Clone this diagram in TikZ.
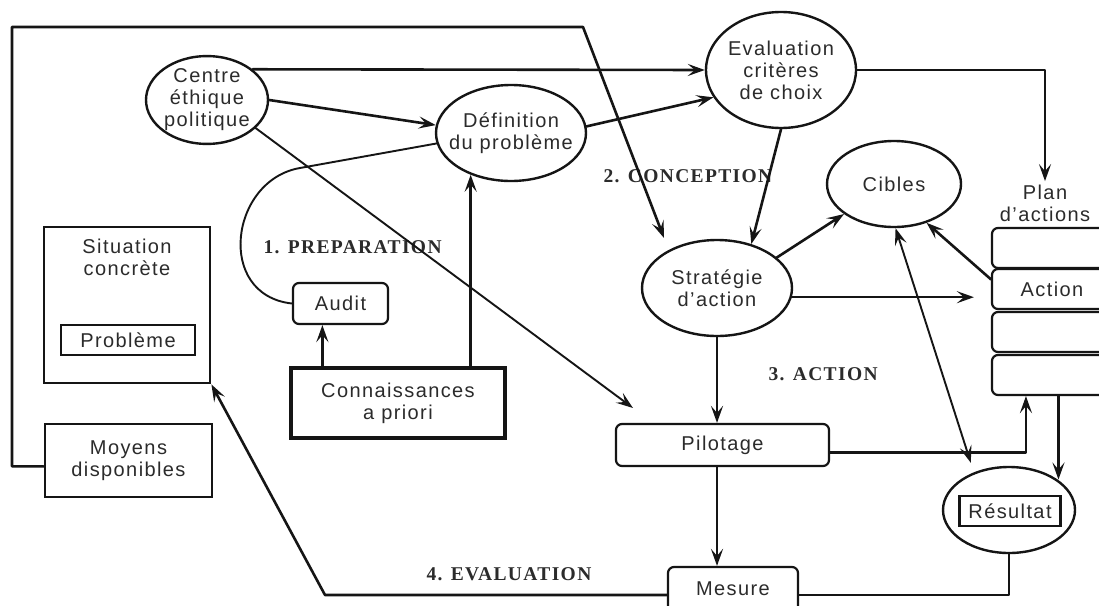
\documentclass[tikz,border=0pt]{standalone}
\usepackage{fontspec}
\setmainfont[LetterSpace=7]{Liberation Sans}
\newfontfamily\phasefont[LetterSpace=7]{Liberation Serif}
\usetikzlibrary{arrows.meta,shapes.geometric}
\definecolor{ink}{HTML}{151515}
\definecolor{txt}{HTML}{2B2B2B}
\tikzset{
  >={Stealth[length=17pt,width=12pt,inset=7pt]},
  base/.style={draw=ink, line width=2.6pt, line cap=round, line join=round},
  thin/.style={draw=ink, line width=1.9pt, line cap=round},
  oval/.style={ellipse, draw=ink, line width=2.4pt, inner sep=0pt, align=center, text=txt},
  box/.style={rectangle, draw=ink, line width=2.8pt, inner sep=0pt, align=center, text=txt},
  rbox/.style={box, line width=2.2pt, rounded corners=6pt},
  phase/.style={anchor=base west, text=txt, font=\phasefont\bfseries\fontsize{19.5}{22}\selectfont},
}

\begin{document}
\begin{tikzpicture}[x=1pt, y=-1pt, font=\fontsize{20}{22}\selectfont]
  \clip (0,0) rectangle (1099,605);
  \fill[white] (0,0) rectangle (1099,605);
  % ovals
  \node[oval, minimum width=122pt, minimum height=86pt, inner xsep=-3pt] (centre) at (207,100) {Centre\\éthique\\politique};
  \node[oval, minimum width=150pt, minimum height=96pt, inner xsep=-10pt] (definition) at (511,133) {Définition\\du problème};
  \node[oval, minimum width=150pt, minimum height=116pt] (evaluation) at (781,70) {Evaluation\\critères\\de choix};
  \node[oval, minimum width=134pt, minimum height=86pt] (cibles) at (894,184) {Cibles};
  \node[oval, minimum width=150pt, minimum height=96pt] (strategie) at (717,288) {Stratégie\\d'action};
  \node[oval, minimum width=132pt, minimum height=86pt] (resultat) at (1009,510) {};
  \node[box, minimum width=101pt, minimum height=30pt] (resbox) at (1010,511) {Résultat};
  % boxes
  \node[box, minimum width=166pt, minimum height=156pt,
    label={[anchor=north, align=center, text=txt, inner sep=0pt, yshift=-13pt]north:{Situation\\concrète}}] (situation) at (127,305) {};
  \node[box, minimum width=134pt, minimum height=30pt] (probleme) at (128,340) {Problème};
  \node[box, minimum width=167pt, minimum height=73pt] (moyens) at (128.5,460.5) {Moyens\\disponibles};
  \node[box, line width=3.6pt, minimum width=214pt, minimum height=70pt] (connaissances) at (398,403) {Connaissances\\a priori};
  \node[rbox, minimum width=95pt, minimum height=41pt] (audit) at (340.5,303.5) {Audit};
  \node[rbox, minimum width=213pt, minimum height=42pt] (pilotage) at (722.5,445) {Pilotage};
  \node[rbox, minimum width=130pt, text height=28pt, text depth=28pt] (mesure) at (733,595) {Mesure};
  \node[text=txt, align=center] (plan) at (1045,203) {Plan\\d'actions};
  \foreach \y/\t [count=\i] in {248/{}, 289/Action, 332/{}, 375/{}}
    \node[rbox, minimum width=120pt, minimum height=40pt] (act\i) at (1052,\y) {\t};
  % phases
  \node[phase] (prep) at (260,253) {1. PREPARATION};
  \node[phase] (conc) at (600,182) {2. CONCEPTION};
  \node[phase] (actphase) at (765,380) {3. ACTION};
  \node[phase] (evalphase) at (423,580) {4. EVALUATION};
  % free points
  \coordinate (topleft) at (12,27);
  \coordinate (topright) at (583,27);
  \coordinate (stratin) at (664,238);
  \coordinate (pilotin) at (633,408);
  \coordinate (auditbend) at (300,168);
  \coordinate (bottomleft) at (325,595);
  % links
  \draw[base,->] (centre.34) -- (evaluation.west);
  \draw[base,->] (centre.east) -- (definition.174);
  \draw[thin,->] (centre.-30) -- (pilotin);
  \draw[base,->] (definition.5) -- (evaluation.202);
  \draw[thin] (definition.188) -- (auditbend) .. controls (230,180) and (215,295) .. (audit.west);
  \draw[base,->] (audit.230 |- connaissances.north) -- (audit.230);
  \draw[base,->] (definition.226 |- connaissances.north) -- (definition.226);
  \draw[base,->] (evaluation.south) -- (strategie.52);
  \draw[base,->] (evaluation.east) -| (plan.north);
  \draw[base,->] (strategie.27) -- (cibles.211);
  \draw[base,->,shorten >=17pt] (strategie.-7) -- (act2.west |- strategie.-7);
  \draw[base,->] (act2.171) -- (cibles.-50);
  \draw[thin,<->,shorten >=10pt] (cibles.-88) -- (resultat.133);
  \draw[base,->] (strategie.south) -- (strategie.south |- pilotage.north);
  \draw[base,->] (strategie.south |- pilotage.south) -- (strategie.south |- mesure.north);
  \draw[base,->] (pilotage.-4) -| (act4.219);
  \draw[base,->] (act4.-73) -- (act4.-73 |- resultat.32);
  \draw[base] (resultat.south) |- (mesure.east);
  \draw[base,->] (mesure.west) -- (bottomleft) -- (situation.south east);
  \draw[base,->] (moyens.184) -| (topleft) -- (topright) -- (stratin);
\end{tikzpicture}
\end{document}
